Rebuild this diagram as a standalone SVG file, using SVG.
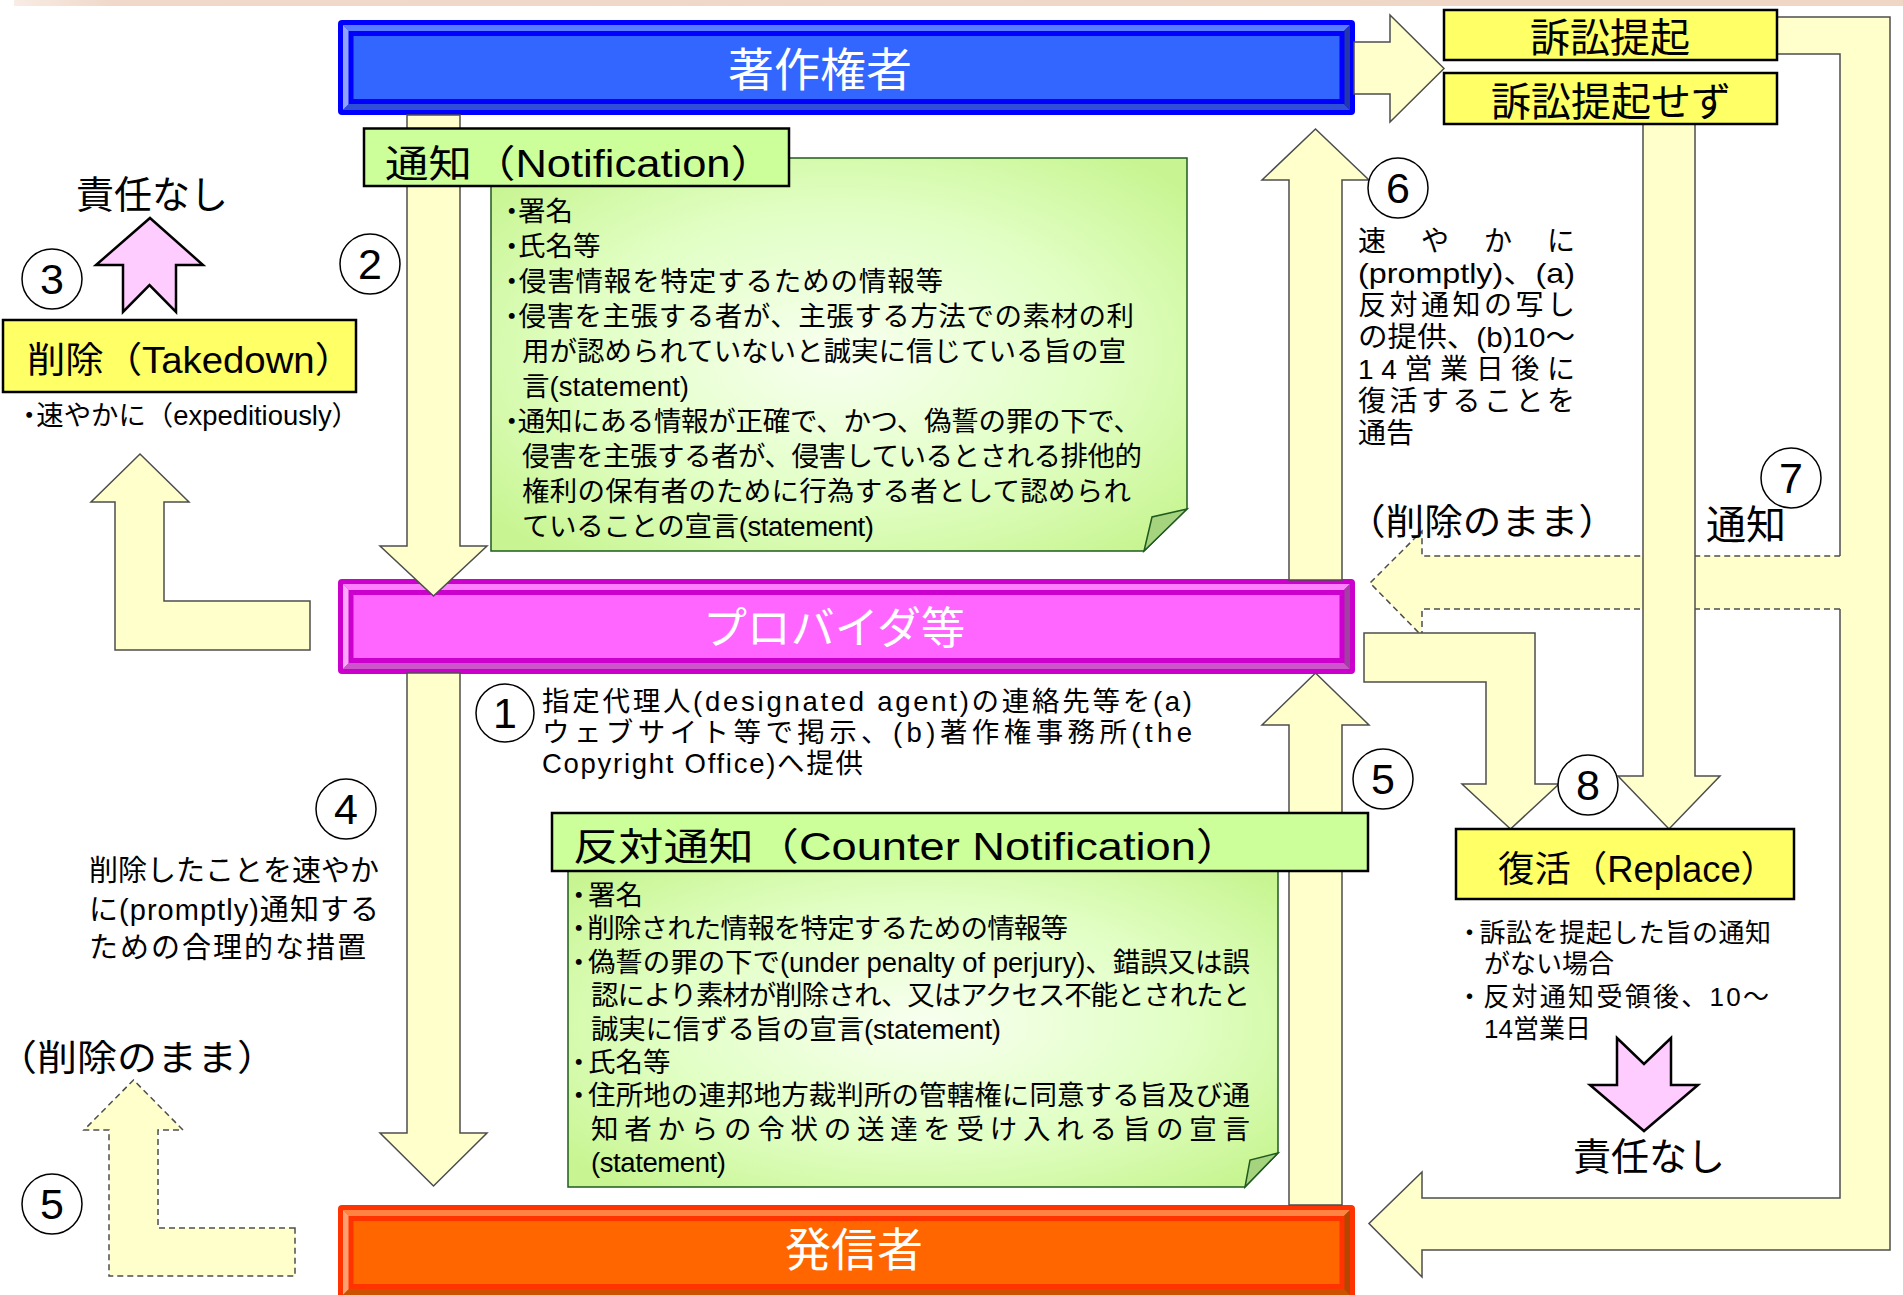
<svg xmlns="http://www.w3.org/2000/svg" width="1903" height="1295" viewBox="0 0 1903 1295">
<defs>
<style>
text{font-family:"Liberation Sans","Noto Sans CJK JP",sans-serif;fill:#000}
.arr{fill:#ffffcc;stroke:#4d4d4d;stroke-width:1.5;stroke-linejoin:miter}
.fillonly{fill:#ffffcc;stroke:none}
.sl{fill:none;stroke:#4d4d4d;stroke-width:1.5}
.dl{fill:none;stroke:#4d4d4d;stroke-width:1.5;stroke-dasharray:6 4}
.darr{fill:#ffffcc;stroke:#4d4d4d;stroke-width:1.5;stroke-dasharray:6 4}
.pink{fill:#ffccff;stroke:#000;stroke-width:2.5;stroke-linejoin:miter}
.circ{fill:#fff;stroke:#000;stroke-width:1.5}
.num{font-size:43px;text-anchor:middle}
.ybox{fill:#ffff66;stroke:#000;stroke-width:2.5}
.gbox{fill:#ccff99;stroke:#000;stroke-width:2.5}
.note{fill:url(#ng);stroke:#1f5a1f;stroke-width:1.5}
.flap{fill:#a6d47e;stroke:#1f5a1f;stroke-width:1.5}
.big{fill:#fff;font-size:46px;text-anchor:middle}
.body{font-size:27.5px}
</style>
<radialGradient id="ng" cx="50%" cy="50%" r="65%">
<stop offset="0" stop-color="#f8fff0"/>
<stop offset="0.55" stop-color="#e2ffc6"/>
<stop offset="1" stop-color="#c8f592"/>
</radialGradient>
<linearGradient id="topband" x1="0" y1="0" x2="1" y2="0">
<stop offset="0" stop-color="#f8ece4"/>
<stop offset="0.05" stop-color="#f0d9ca"/>
<stop offset="1" stop-color="#efd6c5"/>
</linearGradient>
</defs>
<rect x="0" y="0" width="1903" height="1295" fill="#fff"/>
<rect x="14" y="0" width="1889" height="6" fill="url(#topband)"/>

<g id="n-copyright">
<rect x="338" y="20" width="1017" height="95" rx="4" fill="#0000ff"/>
<polygon points="343,25 1350,25 1339,36 354,36" fill="#5a7cff"/>
<polygon points="343,25 354,36 354,99 343,110" fill="#8fa3ff"/>
<polygon points="343,110 354,99 1339,99 1350,110" fill="#2e4fd6"/>
<polygon points="1350,25 1339,36 1339,99 1350,110" fill="#2437a8"/>
<rect x="351" y="33.5" width="991" height="68" fill="#3366ff" stroke="#0000ff" stroke-width="5"/>
<text class="big" x="820" y="86">著作権者</text>
</g>

<g id="n-provider">
<rect x="338" y="579" width="1017" height="95" rx="4" fill="#cc00cc"/>
<polygon points="343,584 1350,584 1339,595 354,595" fill="#ff80ff"/>
<polygon points="343,584 354,595 354,658 343,669" fill="#ffa6ff"/>
<polygon points="343,669 354,658 1339,658 1350,669" fill="#cc55cc"/>
<polygon points="1350,584 1339,595 1339,658 1350,669" fill="#a040a0"/>
<rect x="351" y="592.5" width="991" height="68" fill="#ff66ff" stroke="#cc00cc" stroke-width="5"/>
<text class="big" x="834" y="644" style="font-size:44px">プロバイダ等</text>
</g>

<g id="n-sender">
<rect x="338" y="1205" width="1017" height="95" rx="4" fill="#ff3300"/>
<polygon points="343,1210 1350,1210 1339,1221 354,1221" fill="#ff8444"/>
<polygon points="343,1210 354,1221 354,1284 343,1295" fill="#ffa070"/>
<polygon points="343,1295 354,1284 1339,1284 1350,1295" fill="#cc5200"/>
<polygon points="1350,1210 1339,1221 1339,1284 1350,1295" fill="#b34700"/>
<rect x="351" y="1218.5" width="991" height="68" fill="#ff6600" stroke="#ff3300" stroke-width="5"/>
<text class="big" x="854" y="1266">発信者</text>
</g>

<g id="connectors">
<polygon class="arr" points="407,115 460,115 460,546 487,546 433.5,596 380,546 407,546"/>
<polygon class="arr" points="407,673 460,673 460,1133 487,1133 433.5,1186 380,1133 407,1133"/>
<polygon class="arr" points="310,601 164,601 164,502 189,502 140,454 91,502 115,502 115,650 310,650"/>
<polygon class="darr" points="295,1228 158,1228 158,1130 183,1130 133.5,1080 84,1130 109,1130 109,1276 295,1276"/>
<polygon class="arr" points="1289,580 1289,180 1262,180 1315.5,129 1369,180 1342,180 1342,580"/>
<polygon class="arr" points="1289,1205 1289,725 1262,725 1315.5,673 1369,725 1342,725 1342,1205"/>
<polygon class="arr" points="1354,42 1390,42 1390,15 1444,68.5 1390,122 1390,94 1354,94"/>
<polygon class="fillonly" points="1777,17 1890,17 1890,1250 1422,1250 1422,1277 1369,1223.5 1422,1172 1422,1198 1840,1198 1840,609 1422,609 1422,636 1370,583 1422,531 1422,556 1840,556 1840,54 1777,54"/>
<polyline class="sl" points="1777,17 1890,17 1890,1250 1422,1250 1422,1277 1369,1223.5 1422,1172 1422,1198 1840,1198 1840,609"/>
<polyline class="dl" points="1840,609 1422,609 1422,636 1370,583 1422,531 1422,556 1840,556"/>
<polyline class="sl" points="1840,556 1840,54 1777,54"/>
<polygon class="arr" points="1643,124 1695,124 1695,776 1720,776 1669,829 1618,776 1643,776"/>
<polygon class="arr" points="1364,633 1535,633 1535,784 1559,784 1510.5,829 1462,784 1486,784 1486,682 1364,682"/>
<polygon class="pink" points="150,218 203,265 176,265 176,312 149.5,285 123,312 123,265 96,265"/>
<polygon class="pink" points="1617,1038 1644,1064 1671,1038 1671,1085 1698,1085 1644,1131 1590,1085 1617,1085"/>
</g>

<g id="n-notification">
<polygon class="note" points="491,158 1187,158 1187,509 1144,551 491,551"/>
<polygon class="flap" points="1187,509 1152,517 1144,551"/>
<rect class="gbox" x="364" y="128.5" width="425" height="57.5"/>
<text x="385" y="177" font-size="38" textLength="389" lengthAdjust="spacingAndGlyphs">通知（Notification）</text>
<text class="body" lengthAdjust="spacingAndGlyphs"><tspan x="498" y="221" dx="0 -7.5">・署名</tspan><tspan x="498" y="256" dx="0 -7.5">・氏名等</tspan><tspan x="498" y="291" dx="0 -7.5" textLength="445">・侵害情報を特定するための情報等</tspan><tspan x="498" y="326" dx="0 -7.5" textLength="636">・侵害を主張する者が、主張する方法での素材の利</tspan><tspan x="522" y="361" textLength="604">用が認められていないと誠実に信じている旨の宣</tspan><tspan x="522" y="396" textLength="167">言(statement)</tspan><tspan x="498" y="431" dx="0 -7.5" textLength="643">・通知にある情報が正確で、かつ、偽誓の罪の下で、</tspan><tspan x="522" y="466" textLength="620">侵害を主張する者が、侵害しているとされる排他的</tspan><tspan x="522" y="501" textLength="609">権利の保有者のために行為する者として認められ</tspan><tspan x="522" y="536" textLength="352">ていることの宣言(statement)</tspan></text>
</g>

<g id="n-counter">
<polygon class="note" points="568,860 1278,860 1278,1153 1245,1187 568,1187"/>
<polygon class="flap" points="1278,1153 1250,1160 1245,1187"/>
<rect class="gbox" x="552" y="813" width="816" height="58"/>
<text x="573" y="860" font-size="38" textLength="668" lengthAdjust="spacingAndGlyphs">反対通知（Counter Notification）</text>
<text class="body" lengthAdjust="spacingAndGlyphs"><tspan x="565" y="905" dx="0 -4.5">・署名</tspan><tspan x="565" y="938" dx="0 -4.5" textLength="503">・削除された情報を特定するための情報等</tspan><tspan x="565" y="972" dx="0 -4.5" textLength="685">・偽誓の罪の下で(under penalty of perjury)、錯誤又は誤</tspan><tspan x="591" y="1005" textLength="659">認により素材が削除され、又はアクセス不能とされたと</tspan><tspan x="591" y="1039" textLength="410">誠実に信ずる旨の宣言(statement)</tspan><tspan x="565" y="1072" dx="0 -4.5">・氏名等</tspan><tspan x="565" y="1105" dx="0 -4.5" textLength="685">・住所地の連邦地方裁判所の管轄権に同意する旨及び通</tspan><tspan x="591" y="1139" textLength="659">知者からの令状の送達を受け入れる旨の宣言</tspan><tspan x="591" y="1172" textLength="135">(statement)</tspan></text>
</g>

<g id="n-takedown">
<rect class="ybox" x="3" y="320" width="353" height="72"/>
<text x="27" y="373" font-size="36" textLength="326" lengthAdjust="spacingAndGlyphs">削除（Takedown）</text>
</g>
<text x="15.5" y="425" font-size="27" dx="0 -6.5" textLength="343.5" lengthAdjust="spacingAndGlyphs">・速やかに（expeditiously）</text>
<text x="76" y="208" font-size="38">責任なし</text>

<g id="n-suit">
<rect class="ybox" x="1444" y="10" width="333" height="50"/>
<text x="1610" y="52" font-size="40" text-anchor="middle">訴訟提起</text>
</g>
<g id="n-nosuit">
<rect class="ybox" x="1444" y="73" width="333" height="51"/>
<text x="1611" y="116" font-size="40" text-anchor="middle">訴訟提起せず</text>
</g>

<g id="n-replace">
<rect class="ybox" x="1456" y="829" width="338" height="70"/>
<text x="1498" y="882" font-size="36" textLength="279" lengthAdjust="spacingAndGlyphs">復活（Replace）</text>
</g>
<text font-size="26" lengthAdjust="spacingAndGlyphs"><tspan x="1456.5" y="942" dx="0 -3.5" textLength="314.5">・訴訟を提起した旨の通知</tspan><tspan x="1484" y="973">がない場合</tspan><tspan x="1456.5" y="1006" dx="0 -1.5" textLength="312.5">・反対通知受領後、10～</tspan><tspan x="1484" y="1038">14営業日</tspan></text>
<text x="1573" y="1170" font-size="38">責任なし</text>

<g id="labels">
<text font-size="27.5" lengthAdjust="spacingAndGlyphs"><tspan x="542" y="711" textLength="650">指定代理人(designated agent)の連絡先等を(a)</tspan><tspan x="542" y="742" textLength="650">ウェブサイト等で掲示、(b)著作権事務所(the</tspan><tspan x="542" y="773" textLength="321">Copyright Office)へ提供</tspan></text>
<text font-size="29" lengthAdjust="spacingAndGlyphs"><tspan x="89" y="881" textLength="290">削除したことを速やか</tspan><tspan x="89" y="920" textLength="290">に(promptly)通知する</tspan><tspan x="89" y="958" textLength="277">ための合理的な措置</tspan></text>
<text x="-3" y="1071" font-size="36" textLength="280" lengthAdjust="spacingAndGlyphs">（削除のまま）</text>
<text font-size="28"><tspan x="1358" y="251" textLength="217">速やかに</tspan><tspan x="1358" y="283" textLength="217" lengthAdjust="spacingAndGlyphs">(promptly)、(a)</tspan><tspan x="1358" y="315" textLength="217">反対通知の写し</tspan><tspan x="1358" y="347" textLength="217" lengthAdjust="spacingAndGlyphs">の提供、(b)10～</tspan><tspan x="1358" y="379" textLength="217">14営業日後に</tspan><tspan x="1358" y="411" textLength="217">復活することを</tspan><tspan x="1358" y="443">通告</tspan></text>
<text x="1347" y="535" font-size="36" textLength="270" lengthAdjust="spacingAndGlyphs">（削除のまま）</text>
<text x="1706" y="539" font-size="40">通知</text>
</g>

<g id="markers">
<circle class="circ" cx="505" cy="713" r="29"/><text class="num" x="505" y="728">1</text>
<circle class="circ" cx="370" cy="264" r="30"/><text class="num" x="370" y="279">2</text>
<circle class="circ" cx="52" cy="279" r="30"/><text class="num" x="52" y="294">3</text>
<circle class="circ" cx="346" cy="809" r="30"/><text class="num" x="346" y="824">4</text>
<circle class="circ" cx="52" cy="1204" r="30"/><text class="num" x="52" y="1219">5</text>
<circle class="circ" cx="1383" cy="779" r="30"/><text class="num" x="1383" y="794">5</text>
<circle class="circ" cx="1398" cy="188" r="30"/><text class="num" x="1398" y="203">6</text>
<circle class="circ" cx="1791" cy="478" r="30"/><text class="num" x="1791" y="493">7</text>
<circle class="circ" cx="1588" cy="785" r="30"/><text class="num" x="1588" y="800">8</text>
</g>
</svg>
